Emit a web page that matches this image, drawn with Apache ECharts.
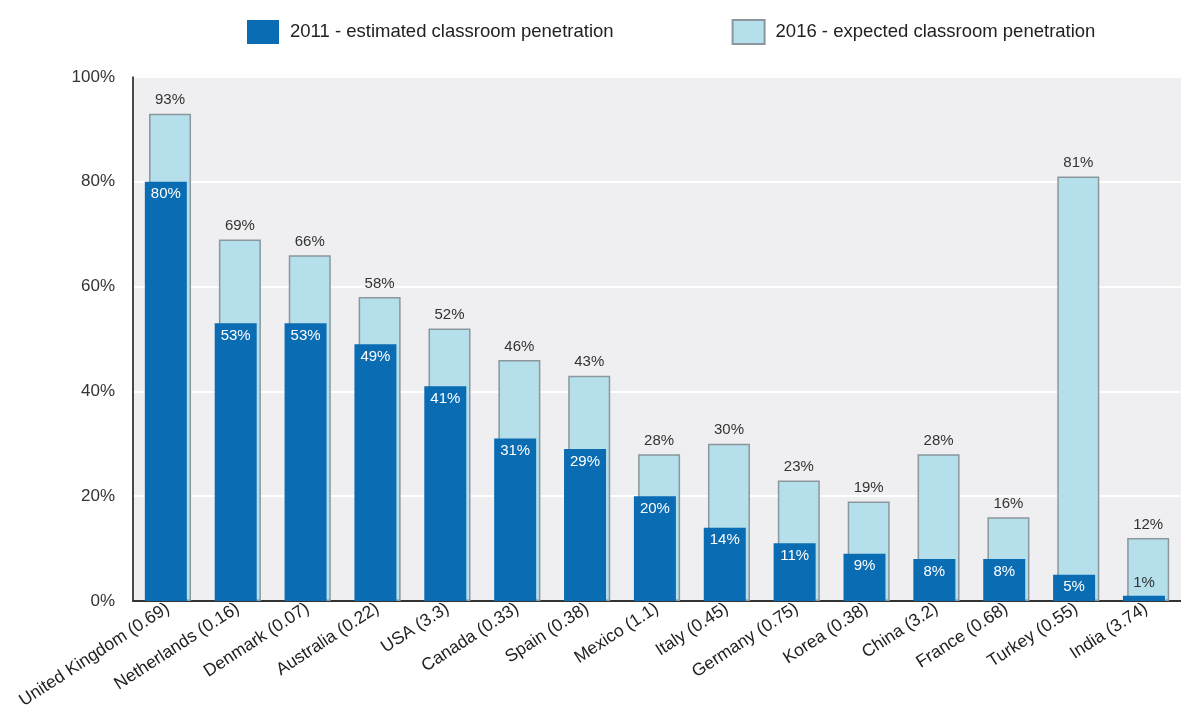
<!DOCTYPE html>
<html>
<head>
<meta charset="utf-8">
<script src="https://cdn.jsdelivr.net/npm/echarts@6/dist/echarts.min.js"></script>
<style>
  html, body { margin: 0; padding: 0; background: #fff; }
  #chart { width: 1181px; height: 718px; }
</style>
</head>
<body>
<div id="chart"></div>
<script>
// countries (with numbers in brackets as printed)
var countries = ['United Kingdom (0.69)', 'Netherlands (0.16)', 'Denmark (0.07)', 'Australia (0.22)',
	'USA (3.3)', 'Canada (0.33)', 'Spain (0.38)', 'Mexico (1.1)', 'Italy (0.45)', 'Germany (0.75)',
	'Korea (0.38)', 'China (3.2)', 'France (0.68)', 'Turkey (0.55)', 'India (3.74)'];
var est2011 = [80, 53, 53, 49, 41, 31, 29, 20, 14, 11, 9, 8, 8, 5, 1];
var exp2016 = [93, 69, 66, 58, 52, 46, 43, 28, 30, 23, 19, 28, 16, 81, 12];
var yTicks = [0, 20, 40, 60, 80, 100];

var font = '"Liberation Sans Narrow", "Arial Narrow", "Liberation Sans", sans-serif';

var myChart = echarts.init(document.getElementById('chart'));

// small bars get their label above the bar
var darkData = est2011.map(function(v) {
	if (v < 4) {
		return { value: v, label: { position: 'top', color: '#333' } };
	}
	return v;
});

myChart.setOption({
	animation: false,
	textStyle: { fontFamily: font },
	legend: {
		top: 14,
		left: 242,
		icon: 'rect',
		itemWidth: 32,
		itemHeight: 24,
		itemGap: 118,
		textStyle: { fontFamily: font, fontSize: 18.5, color: '#222', padding: [0, 0, 0, 6] },
		data: ['2011 - estimated classroom penetration', '2016 - expected classroom penetration']
	},
	grid: {
		left: 133,
		right: 0,
		top: 77,
		bottom: 117,
		show: true,
		backgroundColor: '#efeff1',
		borderWidth: 0
	},
	xAxis: {
		type: 'category',
		data: countries,
		axisTick: { show: false },
		axisLine: { lineStyle: { color: '#333', width: 2 } },
		axisLabel: {
			interval: 0,
			rotate: 33,
			fontSize: 17.5,
			color: '#222',
			margin: 6,
			fontFamily: font
		}
	},
	yAxis: {
		type: 'value',
		min: yTicks[0],
		max: yTicks[yTicks.length - 1],
		interval: 20,
		axisLine: { show: true, lineStyle: { color: '#111', width: 1.5 } },
		axisTick: { show: false },
		splitLine: { lineStyle: { color: '#ffffff', width: 2 } },
		axisLabel: {
			formatter: '{value}%',
			fontSize: 17,
			color: '#333',
			margin: 18,
			padding: [0, 0, 10, 0],
			fontFamily: font
		}
	},
	series: [
		{
			name: '2011 - estimated classroom penetration',
			type: 'bar',
			z: 3,
			barWidth: 42,
			barGap: '-90%',
			data: darkData,
			itemStyle: { color: '#0a6cb3' },
			label: {
				show: true,
				position: 'insideTop',
				distance: 5,
				formatter: '{c}%',
				color: '#ffffff',
				fontSize: 15,
				fontFamily: font
			}
		},
		{
			name: '2016 - expected classroom penetration',
			type: 'bar',
			z: 2,
			barWidth: 42,
			data: exp2016,
			itemStyle: { color: '#b5dfea', borderColor: '#8b979c', borderWidth: 1.5 },
			label: {
				show: true,
				position: 'top',
				distance: 6,
				formatter: '{c}%',
				color: '#333',
				fontSize: 15,
				fontFamily: font
			}
		}
	]
});
</script>
</body>
</html>
